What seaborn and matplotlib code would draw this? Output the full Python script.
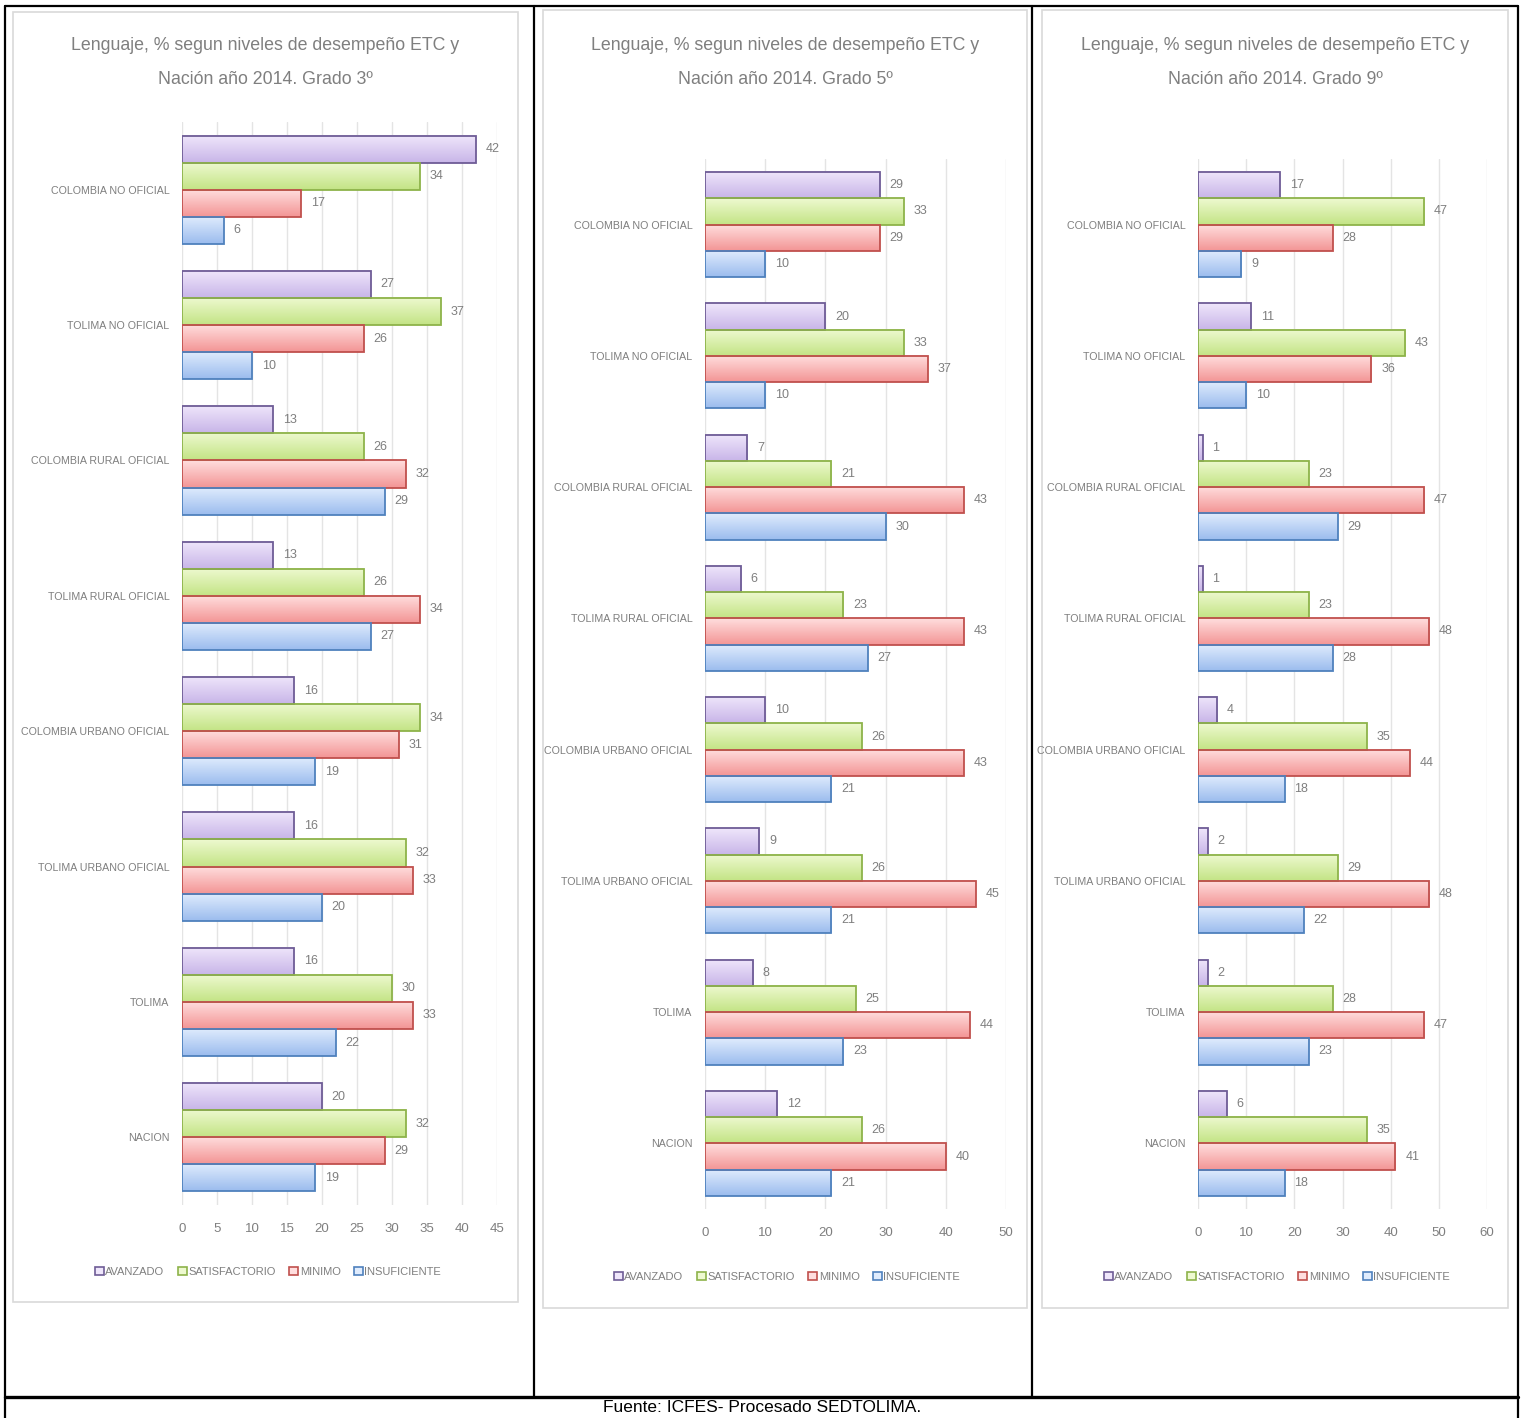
import matplotlib.pyplot as plt
import numpy as np
import pandas as pd
import seaborn as sns
from matplotlib.colors import LinearSegmentedColormap
from matplotlib.lines import Line2D
from matplotlib.patches import Rectangle

# Data (Lenguaje 2014, grades 3, 5, 9)
categorias = ['COLOMBIA NO OFICIAL', 'TOLIMA NO OFICIAL', 'COLOMBIA RURAL OFICIAL',
              'TOLIMA RURAL OFICIAL', 'COLOMBIA URBANO OFICIAL', 'TOLIMA URBANO OFICIAL',
              'TOLIMA', 'NACION']
niveles = ['AVANZADO', 'SATISFACTORIO', 'MINIMO', 'INSUFICIENTE']

g3_avanzado = [42, 27, 13, 13, 16, 16, 16, 20]
g3_satisfactorio = [34, 37, 26, 26, 34, 32, 30, 32]
g3_minimo = [17, 26, 32, 34, 31, 33, 33, 29]
g3_insuficiente = [6, 10, 29, 27, 19, 20, 22, 19]

g5_avanzado = [29, 20, 7, 6, 10, 9, 8, 12]
g5_satisfactorio = [33, 33, 21, 23, 26, 26, 25, 26]
g5_minimo = [29, 37, 43, 43, 43, 45, 44, 40]
g5_insuficiente = [10, 10, 30, 27, 21, 21, 23, 21]

g9_avanzado = [17, 11, 1, 1, 4, 2, 2, 6]
g9_satisfactorio = [47, 43, 23, 23, 35, 29, 28, 35]
g9_minimo = [28, 36, 47, 48, 44, 48, 47, 41]
g9_insuficiente = [9, 10, 29, 28, 18, 22, 23, 18]

titulo_linea1 = 'Lenguaje, % segun niveles de desempeño ETC y'
titulo_linea2 = ['Nación año 2014. Grado 3º', 'Nación año 2014. Grado 5º',
                 'Nación año 2014. Grado 9º']
fuente = 'Fuente: ICFES- Procesado SEDTOLIMA.'

# Styles
color_claro = ['#efe6fb', '#eef9d0', '#ffdede', '#e0ecfd']
color_oscuro = ['#c8b5e8', '#c3e485', '#f39595', '#9bbcee']
color_borde = ['#6e5c96', '#8db34a', '#c0504d', '#4f81bd']
gris = '#7f7f7f'

W, H = 1523, 1418
sns.set_theme(style='white')
plt.rcParams['font.family'] = ['Liberation Sans', 'DejaVu Sans']


def fig_rect(x0, y0, x1, y1):
    # pixel box (top-left origin) -> figure fraction
    return [x0 / W, 1 - y1 / H, (x1 - x0) / W, (y1 - y0) / H]


fig = plt.figure(figsize=(W / 100, H / 100), dpi=100)

paneles = [
    dict(datos=[g3_avanzado, g3_satisfactorio, g3_minimo, g3_insuficiente],
         ax=(182, 122, 497, 1205), xmax=45, paso=5, caja=(13, 12, 518, 1302),
         tx=265, ley=(268, 1272)),
    dict(datos=[g5_avanzado, g5_satisfactorio, g5_minimo, g5_insuficiente],
         ax=(705, 159, 1006, 1209), xmax=50, paso=10, caja=(543, 10, 1027, 1308),
         tx=785, ley=(787, 1277)),
    dict(datos=[g9_avanzado, g9_satisfactorio, g9_minimo, g9_insuficiente],
         ax=(1198, 159, 1487, 1209), xmax=60, paso=10, caja=(1042, 10, 1508, 1308),
         tx=1275, ley=(1277, 1277)),
]

for i, p in enumerate(paneles):
    # light chart frame
    cx0, cy0, cx1, cy1 = p['caja']
    fig.add_artist(Rectangle((cx0 / W, 1 - cy1 / H), (cx1 - cx0) / W, (cy1 - cy0) / H,
                             transform=fig.transFigure, facecolor='white',
                             edgecolor='#d9d9d9', lw=1.2, zorder=0))

    ax = fig.add_axes(fig_rect(*p['ax']))
    ax.set_facecolor('none')
    df = pd.DataFrame({
        'Categoria': categorias * 4,
        'Nivel': np.repeat(niveles, len(categorias)),
        'Valor': sum(p['datos'], []),
    })
    sns.barplot(data=df, y='Categoria', x='Valor', hue='Nivel', order=categorias,
                hue_order=niveles, palette=color_oscuro, orient='h', width=0.8,
                saturation=1, errorbar=None, legend=False, ax=ax)

    for k, cont in enumerate(ax.containers):
        cmap = LinearSegmentedColormap.from_list('g', [color_claro[k], color_oscuro[k]])
        for bar in cont:
            x0, y0 = bar.get_xy()
            w, h = bar.get_width(), bar.get_height()
            ax.imshow(np.linspace(0, 1, 64).reshape(-1, 1), cmap=cmap, aspect='auto',
                      extent=(x0, x0 + w, y0 + h, y0), origin='upper', zorder=2)
            bar.set_facecolor('none')
            bar.set_edgecolor(color_borde[k])
            bar.set_linewidth(1.3)
            bar.set_zorder(3)
        ax.bar_label(cont, padding=7, fontsize=9, color=gris)

    ax.set_xlim(0, p['xmax'])
    ax.set_ylim(len(categorias) - 0.5, -0.5)
    ax.set_xticks(range(0, p['xmax'] + 1, p['paso']))
    ax.grid(axis='x', color='#e4e4e4', lw=1)
    ax.set_axisbelow(True)
    for s in ax.spines.values():
        s.set_visible(False)
    ax.tick_params(axis='x', length=0, pad=13, labelsize=9.5, labelcolor=gris)
    ax.tick_params(axis='y', length=0, pad=9, labelsize=7.7, labelcolor=gris)
    ax.set_xlabel('')
    ax.set_ylabel('')

    fig.text(p['tx'] / W, 1 - 45 / H, titulo_linea1, ha='center', va='center',
             fontsize=12.8, color=gris)
    fig.text(p['tx'] / W, 1 - 80 / H, titulo_linea2[i], ha='center', va='center',
             fontsize=12.8, color=gris)

    handles = [Rectangle((0, 0), 1, 1, facecolor=color_claro[k], edgecolor=color_borde[k], lw=1.2)
               for k in range(4)]
    lx, ly = p['ley']
    fig.legend(handles, niveles, loc='center', bbox_to_anchor=(lx / W, 1 - ly / H),
               ncol=4, frameon=False, fontsize=8, labelcolor=gris, handlelength=0.8,
               handleheight=0.8, handletextpad=0.15, columnspacing=1.2)

# table borders around the three charts
def linea(x0, y0, x1, y1, lw=1.6):
    fig.add_artist(Line2D([x0 / W, x1 / W], [1 - y0 / H, 1 - y1 / H], color='black',
                          lw=lw, transform=fig.transFigure, zorder=5))

linea(5, 6, 1518, 6)
linea(5, 6, 5, H)
linea(1518, 6, 1518, H)
linea(534, 6, 534, 1397)
linea(1032, 6, 1032, 1397)
linea(5, 1397, 1518, 1397, lw=2.4)

fig.text(762 / W, 1 - 1408 / H, fuente, ha='center', va='center', fontsize=12.5, color='black')

fig.savefig('out.png', dpi=100)
